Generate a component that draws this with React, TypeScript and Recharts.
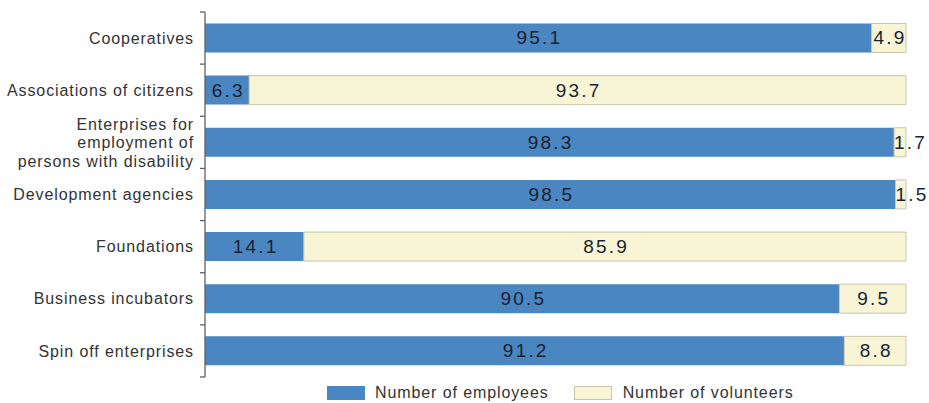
import React from "react";
import { BarChart, Bar, XAxis, YAxis, Legend, LabelList } from "recharts";

const categories = [
  "Cooperatives",
  "Associations of citizens",
  "Enterprises for\nemployment of\npersons with disability",
  "Development agencies",
  "Foundations",
  "Business incubators",
  "Spin off enterprises",
];
const employees = [95.1, 6.3, 98.3, 98.5, 14.1, 90.5, 91.2];
const volunteers = [4.9, 93.7, 1.7, 1.5, 85.9, 9.5, 8.8];
const seriesNames = ["Number of employees", "Number of volunteers"];

const data = categories.map((c, i) => ({
  name: c,
  employees: employees[i],
  volunteers: volunteers[i],
}));

const BLUE = "#4a86c1";
const YELLOW = "#f7f5d6";
const YELLOW_STROKE = "#c9c7a8";
const AXIS = "#606060";
const FONT = "'Liberation Sans', Arial, sans-serif";
const TICK_SIZE = 5;
const TICK_MARGIN = 6;

const CategoryTick = (props: any) => {
  const { x, y, payload, index, visibleTicksCount } = props;
  const off = payload && typeof payload.offset === "number" ? payload.offset : 0;
  const lines = String(payload.value).split("\n");
  const lh = 18.5;
  const start = -((lines.length - 1) * lh) / 2;
  const lx1 = x + TICK_MARGIN;
  const lx2 = x + TICK_MARGIN + TICK_SIZE;
  return (
    <g>
      <line x1={lx1} x2={lx2} y1={y - off} y2={y - off} stroke={AXIS} strokeWidth={1.3} />
      {index === visibleTicksCount - 1 && (
        <line x1={lx1} x2={lx2} y1={y + off} y2={y + off} stroke={AXIS} strokeWidth={1.3} />
      )}
      <text
        x={x}
        y={y}
        textAnchor="end"
        fill="#333333"
        fontSize={16}
        fontFamily={FONT}
        letterSpacing={0.9}
      >
        {lines.map((l, i) => (
          <tspan key={i} x={x} dy={i === 0 ? start + 5.7 : lh}>
            {l}
          </tspan>
        ))}
      </text>
    </g>
  );
};

const estWidth = (s: string) => {
  let w = 0;
  for (const ch of s) w += ch === "." ? 7.5 : 12.8;
  return w - 2.2;
};

const ValueLabel = (props: any) => {
  const { x, y, width, height, value } = props;
  const s = String(value);
  const est = estWidth(s);
  const fits = width >= est + 2;
  const cx = fits ? x + width / 2 + 1.1 : x + est / 2 + 1;
  return (
    <text
      x={cx}
      y={y + height / 2}
      textAnchor="middle"
      dominantBaseline="central"
      fill="#1c1f2e"
      fontSize={19}
      fontFamily={FONT}
      letterSpacing={2.2}
    >
      {s}
    </text>
  );
};

const LegendContent = () => (
  <div
    style={{
      height: 26,
      boxSizing: "border-box",
      paddingTop: 6,
      paddingLeft: 327,
      display: "flex",
      alignItems: "center",
      fontFamily: FONT,
      fontSize: 16,
      letterSpacing: 0.9,
      color: "#333333",
    }}
  >
    <span style={{ display: "inline-block", width: 38, height: 14, background: BLUE }} />
    <span style={{ marginLeft: 10 }}>{seriesNames[0]}</span>
    <span
      style={{
        display: "inline-block",
        width: 36,
        height: 12,
        background: YELLOW,
        border: `1px solid ${YELLOW_STROKE}`,
        marginLeft: 25,
      }}
    />
    <span style={{ marginLeft: 11 }}>{seriesNames[1]}</span>
  </div>
);

export default function App() {
  return (
    <div style={{ position: "absolute", left: 0, top: 0, width: 929, height: 403, background: "#ffffff" }}>
      <BarChart
        width={929}
        height={403}
        data={data}
        layout="vertical"
        margin={{ top: 12, right: 23, bottom: 0, left: 0 }}
        barCategoryGap="22%"
      >
        <XAxis type="number" domain={[0, 100]} hide />
        <YAxis
          type="category"
          dataKey="name"
          width={205}
          interval={0}
          tickSize={TICK_SIZE}
          tickMargin={TICK_MARGIN}
          tickLine={false}
          axisLine={{ stroke: AXIS, strokeWidth: 1.3 }}
          tick={<CategoryTick />}
        />
        <Legend
          verticalAlign="bottom"
          content={<LegendContent />}
          wrapperStyle={{ left: 0, width: 929 }}
        />
        <Bar
          dataKey="employees"
          name={seriesNames[0]}
          stackId="a"
          fill={BLUE}
          isAnimationActive={false}
        >
          <LabelList dataKey="employees" content={<ValueLabel />} />
        </Bar>
        <Bar
          dataKey="volunteers"
          name={seriesNames[1]}
          stackId="a"
          fill={YELLOW}
          stroke={YELLOW_STROKE}
          strokeWidth={1}
          isAnimationActive={false}
        >
          <LabelList dataKey="volunteers" content={<ValueLabel />} />
        </Bar>
      </BarChart>
    </div>
  );
}
